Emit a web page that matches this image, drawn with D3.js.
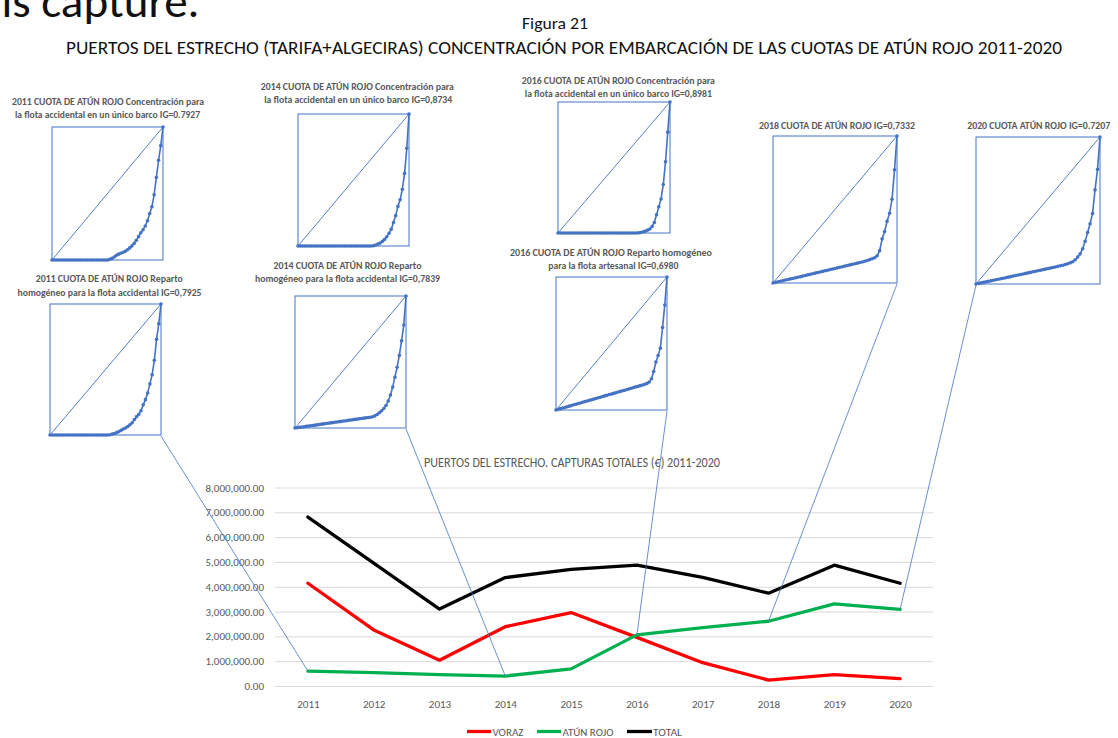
<!DOCTYPE html>
<html>
<head>
<meta charset="utf-8">
<script src="https://cdn.jsdelivr.net/npm/d3@7"></script>
<style>
  html, body { margin: 0; padding: 0; background: #ffffff; }
  svg { display: block; font-family: Carlito, Calibri, Lato, "Liberation Sans", sans-serif; }
</style>
</head>
<body>
<script>
// ---------------- DATA ----------------
const years = [2011, 2012, 2013, 2014, 2015, 2016, 2017, 2018, 2019, 2020];
const voraz    = [4140000, 2260000, 1040000, 2390000, 2960000, 1960000, 940000, 240000, 460000, 300000];
const atunRojo = [600000, 540000, 460000, 400000, 690000, 2060000, 2350000, 2610000, 3310000, 3090000];
const total    = [6810000, 4950000, 3100000, 4370000, 4700000, 4870000, 4380000, 3740000, 4870000, 4140000];
const yTicks = [0, 1000000, 2000000, 3000000, 4000000, 5000000, 6000000, 7000000, 8000000];
const seriesNames = ["VORAZ", "ATÚN ROJO", "TOTAL"];

// Lorenz curves: cumulative share of quota (0..1) for boats ranked by share, equally spaced ranks
const lorenz2011Conc = [0,0,0,0,0,0,0,0,0,0,0,0,0,0,0,0,0,0,0,0,0,0,0,0,0,0,
  .005,.012,.022,.035,.044,.051,.058,.065,.077,.091,.106,.125,.148,.176,.205,.228,.256,.295,.35,.40,.49,.62,.75,.86,1];
const lorenz2011Hom = [0,0,0,0,0,0,0,0,0,0,0,0,0,0,0,0,0,0,0,0,0,0,0,0,0,0,0,
  .002,.007,.012,.018,.026,.035,.045,.053,.064,.078,.094,.118,.14,.158,.185,.23,.27,.32,.39,.46,.57,.73,.85,1];
const lorenz2014Conc = [0,0,0,0,0,0,0,0,0,0,0,0,0,0,0,0,0,0,0,0,0,0,0,0,0,0,0,0,0,0,0,0,0,0,
  .002,.008,.015,.022,.035,.05,.07,.097,.126,.178,.23,.30,.35,.43,.55,.74,1];
const lorenz2014Hom = [0,.0024,.005,.007,.0096,.012,.0145,.017,.019,.0217,.024,.0265,.029,.031,.034,.036,.0385,.041,.043,.046,
  .048,.0505,.053,.055,.058,.06,.0625,.065,.067,.07,.072,.0745,.077,.079,.082,.085,.092,.102,.115,.13,.148,.17,.205,.25,.31,.385,.46,.55,.66,.78,1];
const lorenz2016Conc = [0,0,0,0,0,0,0,0,0,0,0,0,0,0,0,0,0,0,0,0,0,0,0,0,0,0,0,0,0,0,0,0,0,0,0,0,
  .001,.004,.009,.014,.022,.03,.05,.08,.139,.2,.26,.37,.544,.77,1];
const lorenz2016Art = [0,.005,.01,.015,.019,.024,.029,.034,.039,.043,.048,.053,.058,.063,.068,.072,.077,.082,.087,.092,
  .096,.101,.106,.111,.116,.12,.125,.13,.135,.14,.145,.149,.154,.159,.164,.169,.174,.178,.183,.188,.193,.2,.21,.235,.29,.36,.41,.465,.62,.79,1];
const lorenz2018 = [0,.004,.008,.012,.016,.02,.024,.028,.031,.035,.039,.043,.047,.051,.055,.059,.063,.067,.071,.075,
  .079,.083,.087,.091,.095,.099,.103,.107,.111,.115,.119,.123,.127,.131,.135,.139,.143,.148,.153,.159,.165,.172,.185,.22,.30,.35,.42,.475,.57,.77,1];
const lorenz2020 = [0,.004,.0075,.011,.0145,.018,.0215,.025,.0285,.032,.036,.0395,.043,.0465,.05,.054,.0575,.061,.0645,.068,
  .072,.0755,.079,.083,.0865,.09,.094,.0975,.101,.105,.108,.112,.116,.12,.124,.128,.133,.138,.144,.151,.165,.183,.205,.24,.29,.35,.41,.48,.64,.78,1];

const panelTitles = [
  ["2011 CUOTA DE ATÚN ROJO Concentración para", "la flota accidental en un único barco IG=0.7927"],
  ["2011 CUOTA DE ATÚN ROJO Reparto", "homogéneo para la flota accidental IG=0,7925"],
  ["2014 CUOTA DE ATÚN ROJO Concentración para", "la flota accidental en un único barco IG=0,8734"],
  ["2014 CUOTA DE ATÚN ROJO Reparto", "homogéneo para la flota accidental IG=0,7839"],
  ["2016 CUOTA DE ATÚN ROJO Concentración para", "la flota accidental en un único barco IG=0,8981"],
  ["2016 CUOTA DE ATÚN ROJO Reparto homogéneo", "para la flota artesanal IG=0,6980"],
  ["2018 CUOTA DE ATÚN ROJO IG=0,7332"],
  ["2020 CUOTA ATÚN ROJO IG=0.7207"]
];
const panelCurves = [lorenz2011Conc, lorenz2011Hom, lorenz2014Conc, lorenz2014Hom, lorenz2016Conc, lorenz2016Art, lorenz2018, lorenz2020];

// ---------------- LAYOUT ----------------
const W = 1118, H = 738;
const BLUE = "#4472C4", GRAY = "#595959";
const panelLayout = [
  { box: [52, 127, 163, 260], lines: [[108, 105, 192], [107.5, 118, 185]], anchor: null },
  { box: [50, 304, 161, 435], lines: [[109.3, 282, 147], [109.5, 295.5, 184]], anchor: "br", year: 2011 },
  { box: [298, 114, 409, 246], lines: [[357.3, 90, 193], [358.2, 103, 188]], anchor: null },
  { box: [295, 296, 406, 428], lines: [[347.5, 268.5, 148], [347.5, 282, 185]], anchor: "br", year: 2014 },
  { box: [558, 102, 670, 233], lines: [[618.3, 83.5, 193], [618.3, 97, 187]], anchor: null },
  { box: [556, 277, 667, 410], lines: [[611, 255.5, 202], [613.3, 268.5, 130]], anchor: "br", year: 2016 },
  { box: [773, 136, 897, 283], lines: [[837, 128.5, 156]], anchor: "br", year: 2018 },
  { box: [976, 137, 1100, 284], lines: [[1038.7, 128.5, 143]], anchor: "bl", year: 2020 }
];

const svg = d3.select("body").append("svg").attr("width", W).attr("height", H);

function fitText(sel, w) {
  return sel.attr("textLength", w).attr("lengthAdjust", "spacingAndGlyphs");
}

// ---------------- TOP TEXTS ----------------
fitText(svg.append("text").attr("x", 1.5).attr("y", 17).attr("font-size", 46).attr("fill", "#111")
  .text("is capture."), 198);
fitText(svg.append("text").attr("x", 555).attr("y", 29).attr("text-anchor", "middle").attr("font-size", 17).attr("fill", "#111")
  .text("Figura 21"), 66);
fitText(svg.append("text").attr("x", 66).attr("y", 53.5).attr("font-size", 19).attr("fill", "#111")
  .text("PUERTOS DEL ESTRECHO (TARIFA+ALGECIRAS) CONCENTRACIÓN POR EMBARCACIÓN DE LAS CUOTAS DE ATÚN ROJO 2011-2020"), 996);

// ---------------- MAIN CHART ----------------
const plotL = 275, plotR = 933, plotB = 686, plotT = 487.5;
const x = d3.scalePoint().domain(years).range([plotL, plotR]).padding(0.5);
const y = d3.scaleLinear().domain([0, 8000000]).range([plotB, plotT]);
const fmt = d3.format(",.2f");

const yAxis = svg.append("g").attr("transform", `translate(${plotL},0)`)
  .call(d3.axisLeft(y).tickValues(yTicks).tickFormat(fmt).tickSizeInner(-(plotR - plotL)).tickSizeOuter(0).tickPadding(11));
yAxis.select(".domain").remove();
yAxis.selectAll(".tick line").attr("stroke", "#D9D9D9").attr("stroke-width", 1);
yAxis.selectAll(".tick text").attr("fill", GRAY).attr("font-size", 11)
  .style("font-family", "Carlito, Calibri, Lato, 'Liberation Sans', sans-serif");

const xAxis = svg.append("g").attr("transform", `translate(0,${plotB})`)
  .call(d3.axisBottom(x).tickSize(0).tickPadding(14));
xAxis.select(".domain").remove();
xAxis.selectAll(".tick text").attr("fill", GRAY).attr("font-size", 11)
  .style("font-family", "Carlito, Calibri, Lato, 'Liberation Sans', sans-serif");

fitText(svg.append("text").attr("x", 424).attr("y", 467).attr("font-size", 14).attr("fill", GRAY)
  .text("PUERTOS DEL ESTRECHO. CAPTURAS TOTALES (€) 2011-2020"), 296);

const seriesColors = ["#FF0000", "#00B050", "#000000"];
const seriesData = [voraz, atunRojo, total];
const line = d3.line().x((d, i) => x(years[i])).y(d => y(d));
seriesData.forEach((s, k) => {
  svg.append("path").attr("d", line(s)).attr("fill", "none").attr("stroke", seriesColors[k])
    .attr("stroke-width", 3.3).attr("stroke-linejoin", "round").attr("stroke-linecap", "round");
});

// legend
const legendY = 731.5;
const legendItems = [
  { x0: 467, x1: 491, tx: 492.5, w: 31 },
  { x0: 537, x1: 561, tx: 562.5, w: 51 },
  { x0: 627, x1: 652, tx: 653, w: 29 }
];
legendItems.forEach((it, k) => {
  svg.append("line").attr("x1", it.x0).attr("x2", it.x1).attr("y1", legendY).attr("y2", legendY)
    .attr("stroke", seriesColors[k]).attr("stroke-width", 3.3);
  fitText(svg.append("text").attr("x", it.tx).attr("y", legendY + 4).attr("font-size", 11).attr("fill", GRAY)
    .text(seriesNames[k]), it.w);
});

// ---------------- LORENZ PANELS ----------------
panelLayout.forEach((p, k) => {
  const [x0, y0, x1, y1] = p.box;
  const g = svg.append("g");
  const lx = d3.scaleLinear().domain([0, 1]).range([x0, x1]);
  const ly = d3.scaleLinear().domain([0, 1]).range([y1, y0]);
  g.append("rect").attr("x", x0).attr("y", y0).attr("width", x1 - x0).attr("height", y1 - y0)
    .attr("fill", "none").attr("stroke", BLUE).attr("stroke-width", 1);
  g.append("line").attr("x1", lx(0)).attr("y1", ly(0)).attr("x2", lx(1)).attr("y2", ly(1))
    .attr("stroke", BLUE).attr("stroke-width", 0.9);
  const curve = panelCurves[k];
  const n = curve.length - 1;
  const cl = d3.line().x((d, i) => lx(i / n)).y(d => ly(d));
  g.append("path").attr("d", cl(curve)).attr("fill", "none").attr("stroke", BLUE).attr("stroke-width", 1.6);
  g.selectAll("circle").data(curve).join("circle")
    .attr("cx", (d, i) => lx(i / n)).attr("cy", d => ly(d)).attr("r", 1.8).attr("fill", BLUE);
  panelTitles[k].forEach((t, j) => {
    const [cx, by, w] = p.lines[j];
    fitText(g.append("text").attr("x", cx).attr("y", by).attr("text-anchor", "middle")
      .attr("font-size", 9.5).attr("font-weight", "bold").attr("fill", GRAY).text(t), w);
  });
  if (p.anchor) {
    const ax = p.anchor === "br" ? x1 : x0;
    const idx = years.indexOf(p.year);
    svg.append("line").attr("class", "connector")
      .attr("x1", ax).attr("y1", y1 + 1).attr("x2", x(p.year)).attr("y2", y(atunRojo[idx]))
      .attr("stroke", BLUE).attr("stroke-width", 0.8);
  }
});
</script>
</body>
</html>
